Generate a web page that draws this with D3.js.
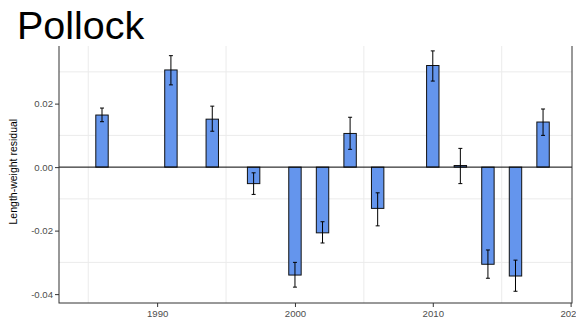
<!DOCTYPE html>
<html>
<head>
<meta charset="utf-8">
<script src="https://cdn.jsdelivr.net/npm/d3@7"></script>
<style>
  body { margin: 0; background: #fff; }
  svg { display: block; font-family: "Liberation Sans", Arial, sans-serif; }
</style>
</head>
<body>
<svg id="chart"></svg>
<script>
// values
const years = [1986, 1991, 1994, 1997, 2000, 2002, 2004, 2006, 2010, 2012, 2014, 2016, 2018];
const residual = [0.0164, 0.0306, 0.0151, -0.0052, -0.0340, -0.0207, 0.0106, -0.0130, 0.0320, 0.0005, -0.0306, -0.0343, 0.0142];
const errLow = [0.0143, 0.0259, 0.0113, -0.0086, -0.0378, -0.0239, 0.0056, -0.0185, 0.0271, -0.0052, -0.0350, -0.0391, 0.0100];
const errHigh = [0.0186, 0.0351, 0.0192, -0.0018, -0.0300, -0.0172, 0.0157, -0.0081, 0.0366, 0.0059, -0.0261, -0.0293, 0.0183];
// 0.04 sits under the title box in the original, so it is left out
const yTicks = [-0.04, -0.02, 0.00, 0.02];
const yMinor = [-0.03, -0.01, 0.01, 0.03];
const xTicks = [1990, 2000, 2010, 2020];
const xMinor = [1985, 1995, 2005, 2015];

function makeChart() {
	let w = 576;
	let h = 324;
	let left = 59, right = 572, top = 36.3, bottom = 303;

	let svg = d3.select('#chart')
		.attr('width', w)
		.attr('height', h);

	let x = d3.scaleLinear().domain([1982.88, 2020.1]).range([left, right]);
	let y = d3.scaleLinear().domain([-0.0428, 0.0412]).range([bottom, top]);

	let rows = years.map((yr, i) => ({ year: yr, v: residual[i], lo: errLow[i], hi: errHigh[i] }));

	// minor grid only
	svg.selectAll('line.gy')
		.data(yMinor)
		.enter().append('line')
		.attr('x1', left).attr('x2', right)
		.attr('y1', d => y(d)).attr('y2', d => y(d))
		.style('stroke', '#ebebeb').style('stroke-width', 1);
	svg.selectAll('line.gx')
		.data(xMinor)
		.enter().append('line')
		.attr('y1', top).attr('y2', bottom)
		.attr('x1', d => x(d)).attr('x2', d => x(d))
		.style('stroke', '#ebebeb').style('stroke-width', 1);

	// bars
	let bw = x(1.9) - x(1);
	svg.selectAll('rect.bar')
		.data(rows)
		.enter().append('rect')
		.attr('x', d => x(d.year) - bw / 2)
		.attr('width', bw)
		.attr('y', d => y(Math.max(0, d.v)))
		.attr('height', d => Math.abs(y(d.v) - y(0)))
		.style('fill', '#6495ED')
		.style('stroke', '#111')
		.style('stroke-width', 1);

	// zero line
	svg.append('line')
		.attr('x1', left).attr('x2', right)
		.attr('y1', y(0)).attr('y2', y(0))
		.style('stroke', '#000').style('stroke-width', 1);

	// error bars
	let cap = 2;
	let eb = svg.selectAll('g.err')
		.data(rows)
		.enter().append('g')
		.style('stroke', '#000').style('stroke-width', 1);
	eb.append('line')
		.attr('x1', d => x(d.year)).attr('x2', d => x(d.year))
		.attr('y1', d => y(d.lo)).attr('y2', d => y(d.hi));
	eb.append('line')
		.attr('x1', d => x(d.year) - cap).attr('x2', d => x(d.year) + cap)
		.attr('y1', d => y(d.lo)).attr('y2', d => y(d.lo));
	eb.append('line')
		.attr('x1', d => x(d.year) - cap).attr('x2', d => x(d.year) + cap)
		.attr('y1', d => y(d.hi)).attr('y2', d => y(d.hi));

	// panel border
	svg.append('rect')
		.attr('x', left).attr('y', top)
		.attr('width', right - left).attr('height', bottom - top)
		.style('fill', 'none').style('stroke', '#333').style('stroke-width', 1);

	// axes
	let yAxis = svg.append('g')
		.attr('transform', `translate(${left},0)`)
		.call(d3.axisLeft(y).tickValues(yTicks).tickSize(4).tickPadding(2)
			.tickFormat(d => d.toFixed(2)));
	let xAxis = svg.append('g')
		.attr('transform', `translate(0,${bottom})`)
		.call(d3.axisBottom(x).tickValues(xTicks).tickSize(4).tickPadding(3)
			.tickFormat(d => d));
	[yAxis, xAxis].forEach(a => {
		a.select('.domain').remove();
		a.selectAll('.tick line').style('stroke', '#333');
		a.selectAll('.tick text')
			.style('fill', '#4d4d4d')
			.style('font-size', '9.6px')
			.style('font-family', '"Liberation Sans", Arial, sans-serif');
	});

	// y title
	svg.append('text')
		.attr('transform', `translate(17,${(top + bottom) / 2 + 2}) rotate(-90)`)
		.attr('text-anchor', 'middle')
		.style('font-size', '10.5px')
		.style('fill', '#000')
		.text('Length-weight residual');

	// title box covering the top of the plot
	svg.append('rect')
		.attr('x', 0).attr('y', 0)
		.attr('width', w).attr('height', 46)
		.style('fill', '#fff');
	svg.append('text')
		.attr('x', 17).attr('y', 39)
		.style('font-size', '39.5px')
		.style('fill', '#000')
		.text('Pollock');
}

window.onload = function () {
	makeChart();
}
</script>
</body>
</html>
